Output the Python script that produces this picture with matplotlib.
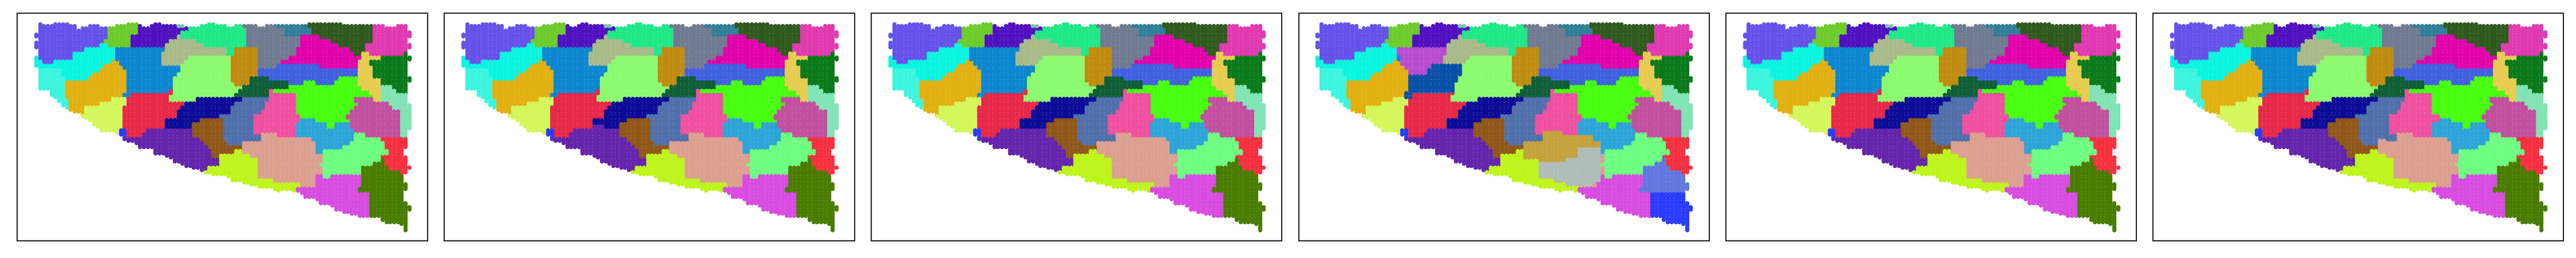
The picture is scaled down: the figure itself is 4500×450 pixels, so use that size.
import numpy as np
import matplotlib
matplotlib.use("Agg")
import matplotlib.pyplot as plt

# Spot lattice on the tissue section (spatial units)
col_x0, col_step = 126.0, 13.5
row_y0, row_step = 125.0, 10.9
n_rows = 100

# First and last extent of every column of spots
col_top = [168, 115, 125, 125, 125, 115, 115, 115, 115, 125, 125, 147, 135, 135, 125, 125, 125, 135, 135, 135,
           135, 125, 125, 125, 115, 115, 115, 125, 135, 135, 125, 115, 115, 125, 125, 125, 125, 125, 125, 135,
           135, 135, 135, 125, 125, 115, 115, 125, 125, 125, 135, 135, 125, 125, 125, 125, 125, 125, 135, 135,
           125, 125, 125, 125, 125, 125, 125, 125, 125, 125, 125, 115, 115, 115, 115, 115, 115, 115, 115, 115,
           125, 125, 125, 125, 125, 125, 125, 125, 125, 125, 125, 135, 135, 135, 125, 125, 125, 155]
col_bot = [355, 478, 478, 478, 512, 523, 545, 568, 580, 590, 600, 600, 623, 633, 645, 658, 670, 692, 692, 690,
           690, 703, 713, 737, 750, 750, 758, 782, 782, 782, 782, 815, 815, 815, 827, 837, 860, 860, 873, 882,
           882, 893, 893, 905, 915, 915, 927, 927, 927, 927, 938, 960, 960, 960, 970, 972, 982, 982, 995, 995,
           995, 995, 1005, 1015, 1003, 1003, 1003, 1015, 1015, 1025, 1048, 1048, 1048, 1058, 1072, 1082, 1082, 1093, 1105, 1105,
           1117, 1117, 1127, 1127, 1137, 1137, 1137, 1137, 1137, 1137, 1160, 1170, 1170, 1170, 1170, 1185, 1217, 1185]
col_gaps = {
    0: [(200, 213), (255, 290)],
    96: [(780, 810), (913, 953), (1003, 1043)],
    97: [(200, 225), (258, 280), (322, 393), (435, 538), (680, 717), (738, 862), (892, 1075), (1105, 1165)],
}

cluster_colors = {
    "A": "#6652EA", "B": "#6DCB2B", "C": "#5010C0", "D": "#7AC4B0", "E": "#20E888", "F": "#707A90",
    "G": "#2F7F98", "H": "#2F5A1E", "I": "#E03AB0", "J": "#E000AC", "K": "#0AF5E0", "L": "#3CF5DE",
    "M": "#E2B010", "N": "#0C86D0", "O": "#A8BA88", "P": "#8CFA6E", "Q": "#C08C10", "R": "#4060E0",
    "S": "#0F5E38", "T": "#48FF10", "U": "#E8CC50", "V": "#0A7A1A", "W": "#80E4B4", "X": "#D4F75C",
    "Y": "#E82848", "Z": "#0C0C98", "a": "#5070AC", "b": "#F050A0", "c": "#C24FA0", "d": "#2CA4D8",
    "e": "#F83040", "f": "#6EFF80", "g": "#DCA090", "h": "#905818", "i": "#6424AC", "j": "#BEF51C",
    "k": "#D84CE0", "l": "#4A7C00", "m": "#2A3CFF", "n": "#B84CD0", "o": "#0A50A8", "p": "#C4A23C",
    "q": "#B0BCB8", "r": "#6078E0",
}

# Cluster runs per band: band centre, then cluster / right end pairs
band_runs = [
    "131 A 375 B 490 C 620 D 645 E 850 F 970 G 1080 H 1305 I 1500",
    "153 A 375 B 485 C 660 E 862 F 1000 G 1090 H 1305 I 1500",
    "175 A 375 B 485 C 630 E 862 F 1000 G 1090 H 1305 I 1500",
    "197 A 375 B 460 C 620 O 635 E 860 F 1050 J 1125 H 1305 I 1500",
    "219 A 362 B 455 C 590 O 690 E 860 F 1050 J 1160 H 1305 I 1500",
    "241 A 345 K 375 B 455 C 580 O 710 E 860 F 1050 J 1180 H 1282 I 1500",
    "263 A 290 K 405 N 575 O 795 E 820 Q 905 F 1040 J 1230 H 1282 I 1500",
    "285 A 260 K 405 N 565 O 795 E 820 Q 905 F 1035 J 1235 H 1265 U 1290 I 1415 V 1500",
    "307 K 130 A 255 K 405 N 565 O 660 P 810 Q 905 F 1010 J 1265 U 1335 V 1500",
    "329 K 150 A 190 K 390 M 415 N 565 O 640 P 810 Q 905 F 985 J 1250 U 1295 V 1500",
    "351 K 362 M 430 N 630 P 810 Q 905 F 970 R 1115 J 1250 U 1305 V 1500",
    "373 L 215 K 345 M 445 N 632 P 810 Q 905 R 1250 U 1305 V 1500",
    "395 L 215 K 325 M 445 N 620 P 810 Q 905 R 1250 U 1305 V 1500",
    "417 L 228 K 305 M 445 N 605 P 810 Q 880 S 940 R 1190 T 1255 U 1335 V 1500",
    "439 L 228 M 445 N 605 P 820 Q 870 S 1010 R 1060 T 1105 R 1170 T 1255 U 1335 V 1500",
    "461 L 228 M 445 N 605 P 855 S 1010 T 1265 U 1335 W 1370 V 1500",
    "483 L 228 M 445 N 590 Y 605 P 835 S 945 b 960 T 1300 U 1335 W 1385 V 1500",
    "505 L 228 M 430 N 460 Y 590 P 825 S 945 b 1040 T 1310 U 1340 W 1500",
    "527 L 240 M 385 X 445 Y 590 P 690 Z 850 a 945 b 1040 T 1240 c 1310 U 1340 W 1500",
    "549 L 240 M 350 X 445 Y 640 Z 820 a 935 b 1040 T 1250 c 1360 W 1500",
    "571 L 240 M 300 X 430 Y 635 Z 810 a 925 b 1040 T 1235 c 1370 W 1500",
    "593 M 295 X 430 Y 620 Z 805 a 920 b 1040 T 1225 c 1400 W 1500",
    "615 X 430 Y 620 Z 770 a 890 b 1052 T 1215 c 1400 W 1500",
    "637 X 430 Y 580 Z 700 h 775 a 890 b 1050 d 1100 T 1225 c 1400 W 1500",
    "659 X 430 Y 580 Z 675 h 780 a 890 b 1040 d 1150 T 1175 d 1225 c 1400 W 1500",
    "681 X 415 m 440 Y 505 i 675 h 780 a 890 b 1040 d 1240 c 1400 W 1500",
    "703 X 415 m 440 Y 500 i 675 h 780 a 915 g 970 b 1040 d 1240 f 1285 c 1400 W 1500",
    "725 i 700 h 780 a 915 g 1090 d 1240 f 1335 e 1500",
    "747 i 715 h 795 a 850 g 1105 d 1230 f 1350 e 1500",
    "769 i 725 h 850 g 1110 d 1200 f 1350 e 1500",
    "791 i 740 h 820 j 850 g 1108 d 1130 f 1360 e 1500",
    "813 i 740 h 770 j 880 g 1130 f 1335 e 1500",
    "835 i 765 j 905 g 1130 f 1330 l 1350 e 1500",
    "857 i 765 j 905 g 1120 f 1310 l 1350 e 1500",
    "879 i 730 j 905 g 1130 f 1270 l 1360 e 1500",
    "901 j 905 g 1130 f 1265 l 1400 e 1500",
    "923 j 905 g 1105 k 1130 f 1160 k 1265 l 1500",
    "945 j 960 g 1105 k 1265 l 1500",
    "967 j 1050 g 1105 k 1265 l 1500",
    "989 j 1040 k 1250 l 1500",
    "1011 k 1295 l 1500",
]

# Patches per section: cluster, y from, y to, x from, x to
section4_patches = [
    ("n", 248, 280, 408, 578), ("n", 280, 335, 412, 568), ("n", 335, 360, 425, 525), ("n", 360, 392, 438, 505),
    ("o", 335, 360, 525, 635), ("o", 360, 392, 505, 633), ("o", 392, 430, 443, 620), ("o", 430, 475, 443, 608),
    ("o", 475, 510, 432, 460),
    ("p", 690, 710, 920, 990), ("p", 710, 745, 915, 1095), ("p", 745, 775, 850, 1120), ("p", 775, 825, 850, 1040),
    ("p", 825, 850, 905, 1000),
    ("q", 775, 825, 1040, 1120), ("q", 825, 850, 1000, 1120), ("q", 850, 905, 905, 1118), ("q", 905, 925, 905, 1118),
    ("q", 925, 945, 960, 1118), ("q", 945, 965, 1000, 1095),
]
section2_patches = [("i", 650, 672, 583, 618)]
section6_patches = [("b", 600, 640, 1040, 1063), ("g", 735, 770, 848, 870), ("K", 322, 342, 190, 205)]
section_patches = [[], section2_patches, [], section4_patches, [], section6_patches]

# Clusters that take over another one in a part of one section: old, y from, y to, new
section4_swaps = [("l", 0, 1005, "r"), ("l", 1005, 1300, "m")]
section_swaps = [[], [], [], section4_swaps, [], []]


def read_bands():
    bands = {}
    for line in band_runs:
        parts = line.split()
        labels = parts[1::2]
        ends = [float(v) for v in parts[2::2]]
        bands[int(parts[0])] = (labels, ends)
    return bands


def spot_label(x, y, bands, patches, swaps):
    for name, y0, y1, x0, x1 in patches:
        if y0 <= y < y1 and x0 <= x < x1:
            return name
    centres = np.array(sorted(bands))
    band = int(centres[np.argmin(np.abs(centres - y))])
    labels, ends = bands[band]
    label = labels[-1]
    for candidate, end in zip(labels, ends):
        if x < end:
            label = candidate
            break
    for old, y0, y1, new in swaps:
        if label == old and y0 <= y < y1:
            return new
    return label


def section_spots(patches, swaps):
    bands = read_bands()
    xs, ys, labels = [], [], []
    for c, (top, bot) in enumerate(zip(col_top, col_bot)):
        x = col_x0 + c * col_step
        for k in range(n_rows):
            y = row_y0 + k * row_step
            if y < top + 9 or y > bot - 9:
                continue
            if any(a - 9 < y < b + 9 for a, b in col_gaps.get(c, [])):
                continue
            xs.append(x)
            ys.append(y)
            labels.append(spot_label(x, y, bands, patches, swaps))
    return np.array(xs), np.array(ys), np.array(labels)


fig, axes = plt.subplots(1, 6, figsize=(45, 4.5), dpi=100)
fig.subplots_adjust(left=30 / 4500, right=4478 / 4500, top=1 - 22.7 / 450, bottom=1 - 420 / 450, wspace=0.0407)

for ax, patches, swaps in zip(axes, section_patches, section_swaps):
    xs, ys, labels = section_spots(patches, swaps)
    for name, color in cluster_colors.items():
        mask = labels == name
        if mask.any():
            ax.scatter(xs[mask], ys[mask], s=28, color=color, linewidths=0)
    ax.set_xlim(60, 1500)
    ax.set_ylim(1260, 68)
    ax.set_xticks([])
    ax.set_yticks([])
    for spine in ax.spines.values():
        spine.set_linewidth(1.5)
        spine.set_color("#262626")

fig.savefig("out.png", dpi=100)
